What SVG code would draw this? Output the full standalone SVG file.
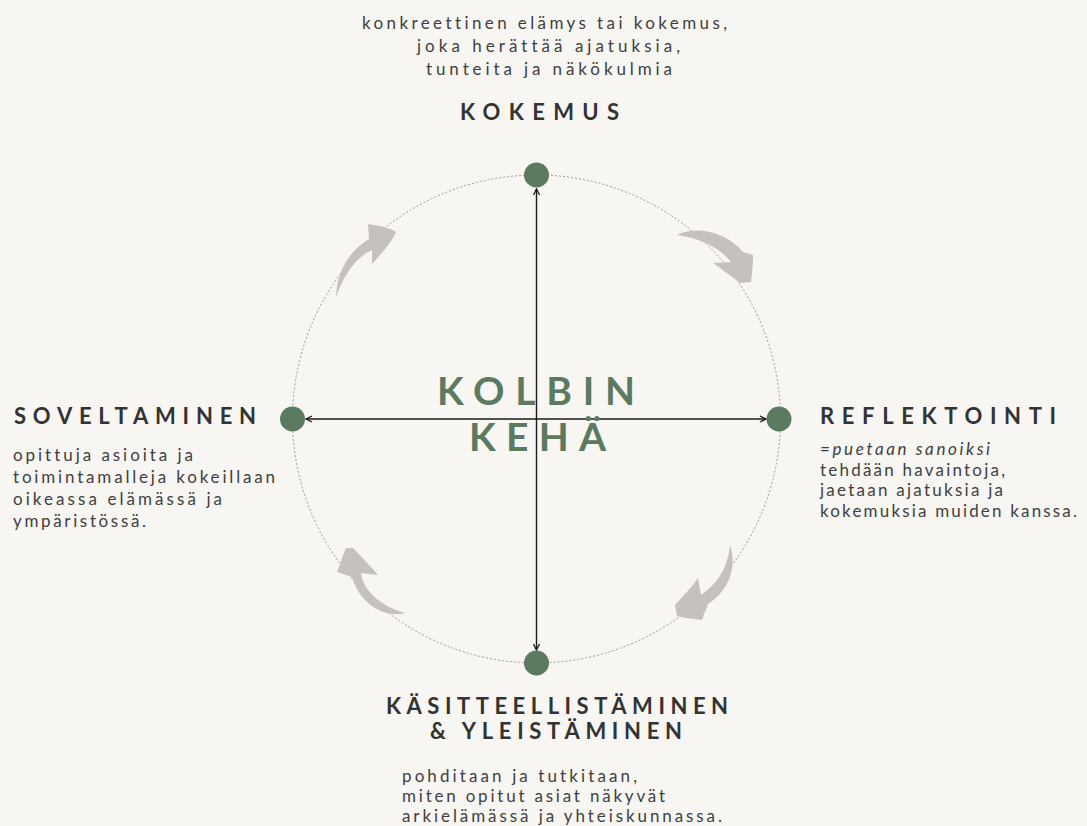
<svg xmlns="http://www.w3.org/2000/svg" width="1087" height="826" viewBox="0 0 1087 826">
  <defs>
    <style>
      text { font-variant-ligatures: none; }
      .body { font-family: Lato, "Liberation Sans", sans-serif; font-size: 17px; fill: #3f3f3f; }
      .head { font-family: Lato, "Liberation Sans", sans-serif; font-size: 22px; font-weight: 700; fill: #333333; }
      .title { font-family: Lato, "Liberation Sans", sans-serif; font-size: 39px; font-weight: 700; fill: #5b7a60; }
      .dot { fill: #5b7a60; }
      .ring { fill: none; stroke: #8f8f8f; stroke-width: 0.9; stroke-dasharray: 2 2; }
      .axis { stroke: #1a1a1a; stroke-width: 1.4; fill: none; }
      .flow { fill: #c6c1bc; }
    </style>
    <marker id="tip" viewBox="0 0 8 8" refX="7" refY="4" markerWidth="8" markerHeight="8" markerUnits="userSpaceOnUse" orient="auto-start-reverse">
      <path d="M1,1 L7,4 L1,7" fill="none" stroke="#1a1a1a" stroke-width="1.3"/>
    </marker>
  </defs>

  <rect width="1087" height="826" fill="#f7f6f2"/>

  <!-- dashed cycle ring -->
  <circle class="ring" cx="536.5" cy="419" r="244"/>

  <!-- connectors: axes and the curved cycle arrows -->
  <g id="connectors">
    <line class="axis" x1="536.5" y1="650" x2="536.5" y2="189" marker-start="url(#tip)" marker-end="url(#tip)"/>
    <line class="axis" x1="306" y1="419" x2="766" y2="419" marker-start="url(#tip)" marker-end="url(#tip)"/>
    <path class="flow" d="M336,297 C337,272 348,252 369,239 L368,224 C380,226 390,228 396,232 C392,242 382,253 372,264 L372,250 C358,256 345,272 336,297 Z"/>
    <path class="flow" d="M677,235 C692,227 722,228 743,252 L753,255 C753,265 752,274 751,282 L740,283 C730,275 720,268 713,263 L731,262 C720,248 700,238 677,235 Z"/>
    <path class="flow" d="M730,545 C737,566 730,590 708,604 L702,620 C694,619 684,618 677,616 L675,605 C683,596 692,587 698,578 L701,595 C720,582 728,565 730,545 Z"/>
    <path class="flow" d="M405,613 C385,618 360,605 352,577 L337,572 C340,564 343,555 346,548 L353,548 C362,557 370,566 378,575 L361,573 C363,590 380,606 405,613 Z"/>
  </g>

  <!-- centre title -->
  <g id="title">
    <text class="title" x="437" y="405" textLength="198" lengthAdjust="spacing">KOLBIN</text>
    <text class="title" x="469" y="451" textLength="137" lengthAdjust="spacing">KEHÄ</text>
  </g>

  <!-- stage 1 -->
  <g id="kokemus">
    <circle class="dot" cx="536.5" cy="175" r="12.5"/>
    <text class="head" x="460" y="120" textLength="159" lengthAdjust="spacing">KOKEMUS</text>
    <text class="body" x="362" y="29" textLength="365" lengthAdjust="spacing">konkreettinen elämys tai kokemus,</text>
    <text class="body" x="417" y="52" textLength="263" lengthAdjust="spacing">joka herättää ajatuksia,</text>
    <text class="body" x="426" y="75" textLength="246" lengthAdjust="spacing">tunteita ja näkökulmia</text>
  </g>

  <!-- stage 2 -->
  <g id="reflektointi">
    <circle class="dot" cx="779" cy="419" r="12.5"/>
    <text class="head" x="820" y="424" textLength="236" lengthAdjust="spacing">REFLEKTOINTI</text>
    <text class="body" x="820" y="455" textLength="170" lengthAdjust="spacing" font-style="italic">=puetaan sanoiksi</text>
    <text class="body" x="820" y="476" textLength="185" lengthAdjust="spacing">tehdään havaintoja,</text>
    <text class="body" x="820" y="496" textLength="183" lengthAdjust="spacing">jaetaan ajatuksia ja</text>
    <text class="body" x="820" y="517" textLength="257" lengthAdjust="spacing">kokemuksia muiden kanssa.</text>
  </g>

  <!-- stage 3 -->
  <g id="kasitteellistaminen">
    <circle class="dot" cx="536.5" cy="663" r="12.5"/>
    <text class="head" x="386" y="714" textLength="342" lengthAdjust="spacing">KÄSITTEELLISTÄMINEN</text>
    <text class="head" x="430" y="739" textLength="252" lengthAdjust="spacing">&amp; YLEISTÄMINEN</text>
    <text class="body" x="402" y="782" textLength="235" lengthAdjust="spacing">pohditaan ja tutkitaan,</text>
    <text class="body" x="402" y="802" textLength="263" lengthAdjust="spacing">miten opitut asiat näkyvät</text>
    <text class="body" x="402" y="822" textLength="320" lengthAdjust="spacing">arkielämässä ja yhteiskunnassa.</text>
  </g>

  <!-- stage 4 -->
  <g id="soveltaminen">
    <circle class="dot" cx="292.5" cy="419" r="12.5"/>
    <text class="head" x="14" y="424" textLength="242" lengthAdjust="spacing">SOVELTAMINEN</text>
    <text class="body" x="13" y="461" textLength="180" lengthAdjust="spacing">opittuja asioita ja</text>
    <text class="body" x="13" y="483" textLength="262" lengthAdjust="spacing">toimintamalleja kokeillaan</text>
    <text class="body" x="13" y="505" textLength="209" lengthAdjust="spacing">oikeassa elämässä ja</text>
    <text class="body" x="13" y="527" textLength="133" lengthAdjust="spacing">ympäristössä.</text>
  </g>
</svg>
